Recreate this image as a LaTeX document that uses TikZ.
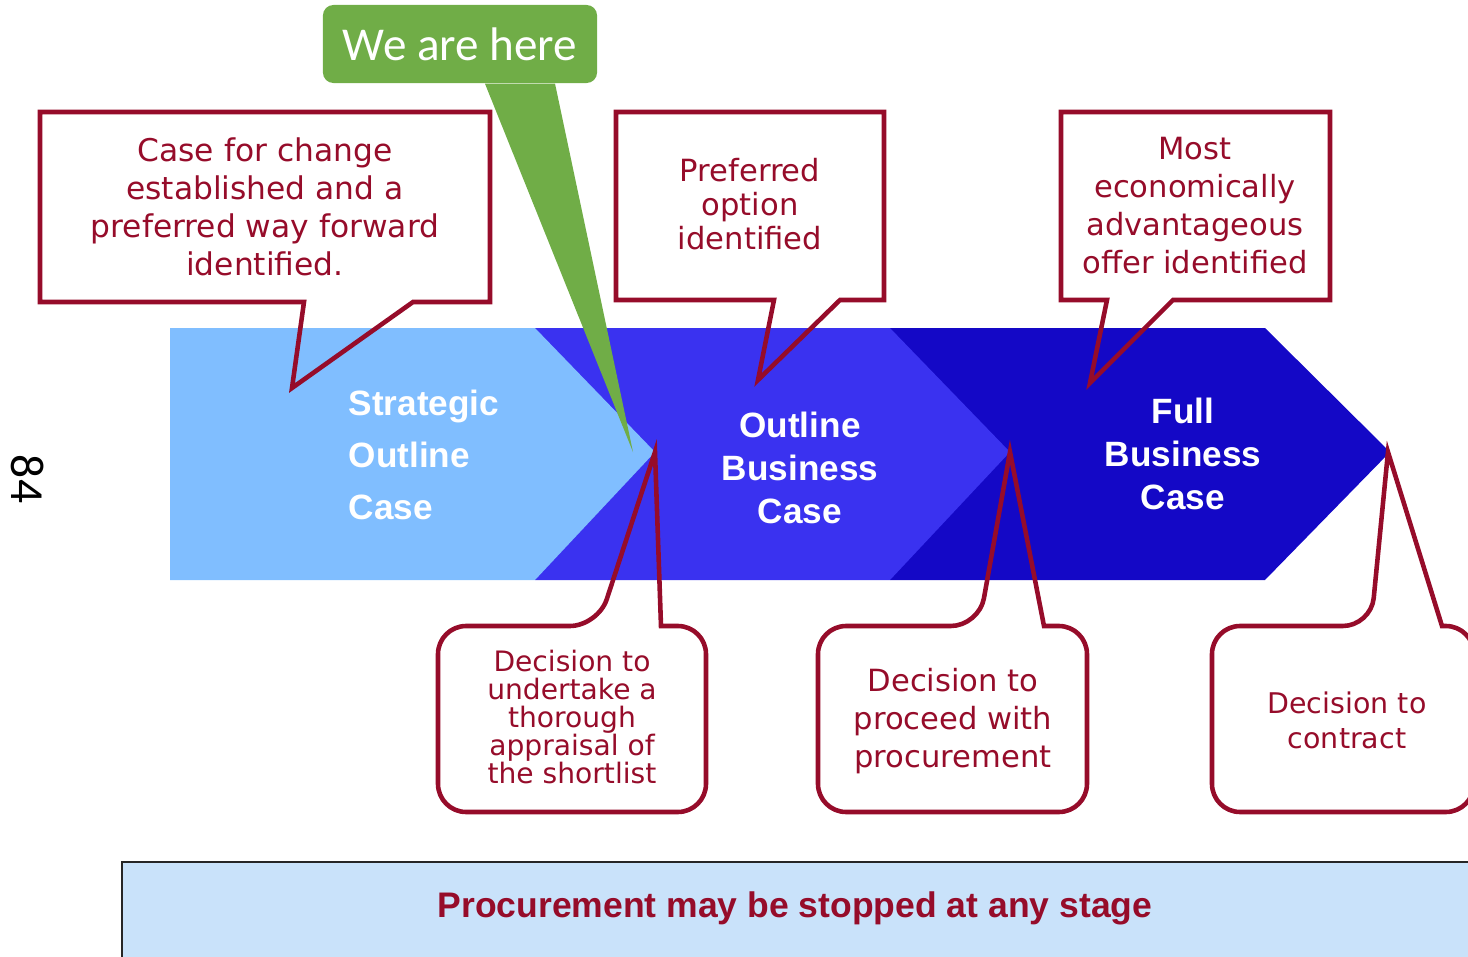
\documentclass[tikz,border=0pt]{standalone}
\usepackage{fontspec}
\usepackage{xcolor}
\usetikzlibrary{calc}

\newfontfamily\noteface{DejaVu Sans}
\newfontfamily\stageface{Liberation Sans}
\newfontfamily\tagface{Carlito}

\definecolor{stageLight}{RGB}{128,190,255}
\definecolor{stageMid}{RGB}{58,50,240}
\definecolor{stageDark}{RGB}{20,8,198}
\definecolor{noteRed}{RGB}{150,12,42}
\definecolor{hereGreen}{RGB}{112,173,71}
\definecolor{bannerBlue}{RGB}{201,226,250}

\begin{document}
\begin{tikzpicture}[
    x=0.01cm, y=-0.01cm, % one unit = one pixel of the slide, y runs downwards
    % --- Styles ---
    stage text/.style={text=white, inner sep=0pt, font=\stageface\bfseries\fontsize{10}{12.2}\selectfont},
    note frame/.style={draw=noteRed, line width=1.3pt, line join=miter},
    note text/.style={text=noteRed, align=center, inner sep=0pt},
    here box/.style={fill=hereGreen, rounded corners=3pt, text=white, inner sep=0pt,
        minimum width=2.74cm, minimum height=0.78cm, font=\tagface\fontsize{13.4}{15}\selectfont}
]
    \useasboundingbox (0,0) rectangle (1468,957);

    %% --- STAGE CHEVRONS ---
    \fill[stageDark] (890,328) -- (1265,328) -- (1390,452) -- (1265,580) -- (890,580) -- cycle;
    \fill[stageMid] (535,328) -- (890,328) -- (1010,452) -- (890,580) -- (535,580) -- cycle;
    \fill[stageLight] (170,328) -- (535,328) -- (655,452) -- (535,580) -- (170,580) -- cycle;

    \node[stage text, align=left, anchor=west, font=\stageface\bfseries\fontsize{10}{14.7}\selectfont]
        (socLabel) at (348,455) {Strategic\\Outline\\Case};
    \node[stage text, align=center] (obcLabel) at (800,468) {Outline\\Business\\Case};
    \node[stage text, align=center] (fbcLabel) at (1183,454) {Full\\Business\\Case};

    %% --- TOP CALLOUTS (outcomes) ---
    \draw[note frame] (40,112) -- (490,112) -- (490,302) -- (413,302) -- (292,388) -- (304,302) -- (40,302) -- cycle;
    \node[note text, font=\noteface\fontsize{8.9}{10.8}\selectfont] (caseNote) at (265,207)
        {Case for change\\established and a\\preferred way forward\\identified.};

    \draw[note frame] (616,112) -- (884,112) -- (884,300) -- (840,300) -- (758,380) -- (774,300) -- (616,300) -- cycle;
    \node[note text, font=\noteface\fontsize{8.7}{9.6}\selectfont] (optionNote) at (750,204)
        {Preferred\\option\\identified};

    \draw[note frame] (1061,112) -- (1330,112) -- (1330,300) -- (1173,300) -- (1090,383) -- (1107,300) -- (1061,300) -- cycle;
    \node[note text, font=\noteface\fontsize{8.7}{10.8}\selectfont] (offerNote) at (1195,206)
        {Most\\economically\\advantageous\\offer identified};

    %% --- BOTTOM CALLOUTS (decisions) ---
    \draw[note frame] (655,452) -- (661,626) [rounded corners=8pt] -- (706,626) -- (706,812)
        -- (438,812) -- (438,626) -- (598,626) [sharp corners] -- cycle;
    \node[note text, font=\noteface\fontsize{8}{7.9}\selectfont] (shortlistNote) at (572,717)
        {Decision to\\undertake a\\thorough\\appraisal of\\the shortlist};

    \draw[note frame] (1010,452) -- (1044,626) [rounded corners=8pt] -- (1087,626) -- (1087,812)
        -- (818,812) -- (818,626) -- (979,626) [sharp corners] -- cycle;
    \node[note text, font=\noteface\fontsize{8.7}{10.8}\selectfont] (procureNote) at (953,721)
        {Decision to\\proceed with\\procurement};

    \draw[note frame] (1388,452) -- (1442,626) [rounded corners=8pt] -- (1474,626) -- (1474,812)
        -- (1212,812) -- (1212,626) -- (1371,626) [sharp corners] -- cycle;
    \node[note text, font=\noteface\fontsize{8.1}{9.9}\selectfont] (contractNote) at (1347,720)
        {Decision to\\contract};

    %% --- WE ARE HERE ---
    \node[here box] (here) at (460,44) {We are here\hspace{0.14cm}};
    \coordinate (herePin) at (633,452);
    \fill[hereGreen] ([xshift=0.25cm]here.south) -- (herePin) -- ([xshift=0.95cm]here.south) -- cycle;

    %% --- BANNER ---
    \fill[bannerBlue] (122,862) rectangle (1490,980);
    \draw[black!85, line width=0.8pt] (122,980) -- (122,862) -- (1490,862);
    \node[text=noteRed, font=\stageface\bfseries\fontsize{10.1}{12}\selectfont] (stopBanner) at (795,908)
        {Procurement may be stopped at any stage};

    % page number
    \node[rotate=-90, font=\tagface\fontsize{13.5}{15}\selectfont] (pageNum) at (28,479) {84};
\end{tikzpicture}
\end{document}
